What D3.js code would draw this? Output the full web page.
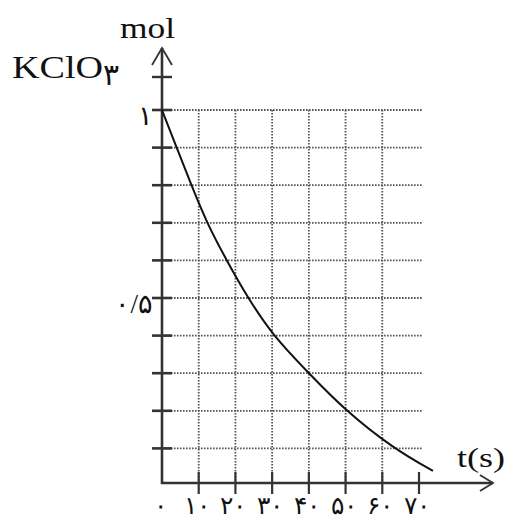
<!DOCTYPE html>
<html>
<head>
<meta charset="utf-8">
<script src="https://cdn.jsdelivr.net/npm/d3@7"></script>
<style>
  body { margin: 0; background: #fff; }
  #chart { width: 507px; height: 520px; }
  text { font-family: "Liberation Serif", "DejaVu Serif", serif; fill: #111; }
</style>
</head>
<body>
<div id="chart"></div>
<script>
// time (s) and moles of KClO3
const times = [0, 4, 8, 12.2, 17.6, 23.4, 30.2, 40, 50, 63, 73.8];
const moles = [1, 0.9, 0.8, 0.7, 0.6, 0.5, 0.4, 0.3, 0.2, 0.1, 0.04];
const xTicks = [10, 20, 30, 40, 50, 60, 70];
const xTickLabels = ["۰", "۱۰", "۲۰", "۳۰", "۴۰", "۵۰", "۶۰", "۷۰"];
const xLabelValues = [0, 10, 20, 30, 40, 50, 60, 70];
const yTicks = [0.1, 0.2, 0.3, 0.4, 0.5, 0.6, 0.7, 0.8, 0.9, 1];
const yTickLabels = [{v: 1, t: "۱"}, {v: 0.5, t: "۰/۵"}];
const xGrid = [10, 20, 30, 40, 50, 60];

document.addEventListener("DOMContentLoaded", () => {
  const svg = d3.select("#chart").append("svg")
    .attr("width", 507).attr("height", 520);

  const x = d3.scaleLinear().domain([0, 70]).range([162, 419]);
  const y = d3.scaleLinear().domain([0, 1]).range([486, 110]);
  const axisY = 483, axisX = x(0);
  const ink = "#333";

  // grid
  svg.append("g").selectAll("line").data(yTicks).enter().append("line")
    .attr("x1", axisX).attr("x2", x(71))
    .attr("y1", d => y(d)).attr("y2", d => y(d))
    .attr("stroke", "#555").attr("stroke-width", 1.8).attr("stroke-dasharray", "1.6,1.4");
  svg.append("g").selectAll("line").data(xGrid).enter().append("line")
    .attr("x1", d => x(d)).attr("x2", d => x(d))
    .attr("y1", y(1)).attr("y2", axisY)
    .attr("stroke", "#555").attr("stroke-width", 1.8).attr("stroke-dasharray", "1.6,1.4");

  // axes
  svg.append("line").attr("x1", axisX).attr("x2", axisX).attr("y1", 48).attr("y2", axisY + 1)
    .attr("stroke", ink).attr("stroke-width", 2.6);
  svg.append("line").attr("x1", axisX - 1).attr("x2", 493).attr("y1", axisY).attr("y2", axisY)
    .attr("stroke", ink).attr("stroke-width", 2.6);
  svg.append("path").attr("d", `M${axisX - 10},65 L${axisX},48 L${axisX + 10},65`)
    .attr("fill", "none").attr("stroke", ink).attr("stroke-width", 1.8);
  svg.append("path").attr("d", `M480,${axisY - 8} L493,${axisY} L480,${axisY + 8}`)
    .attr("fill", "none").attr("stroke", ink).attr("stroke-width", 1.8);
  svg.append("line").attr("x1", axisX - 10).attr("x2", axisX + 10).attr("y1", 77).attr("y2", 77)
    .attr("stroke", ink).attr("stroke-width", 2.4);

  // ticks
  svg.append("g").selectAll("line").data(yTicks).enter().append("line")
    .attr("x1", axisX - 10).attr("x2", axisX + 10)
    .attr("y1", d => y(d)).attr("y2", d => y(d))
    .attr("stroke", ink).attr("stroke-width", 2.6);
  svg.append("g").selectAll("line").data(xTicks).enter().append("line")
    .attr("x1", d => x(d)).attr("x2", d => x(d))
    .attr("y1", axisY - 11).attr("y2", axisY + 11)
    .attr("stroke", ink).attr("stroke-width", 2.2);

  // tick labels
  svg.append("g").selectAll("text").data(xLabelValues).enter().append("text")
    .attr("x", d => x(d) - 2).attr("y", 514)
    .attr("text-anchor", "middle").attr("font-size", 25)
    .text((d, i) => xTickLabels[i]);
  svg.append("g").selectAll("text").data(yTickLabels).enter().append("text")
    .attr("x", axisX - 9).attr("y", d => y(d.v) + 15)
    .attr("text-anchor", "end").attr("font-size", 27)
    .text(d => d.t);

  // axis titles
  svg.append("text").attr("x", 120).attr("y", 38).attr("font-size", 30)
    .attr("textLength", 55).attr("lengthAdjust", "spacingAndGlyphs").text("mol");
  const k = svg.append("text").attr("x", 12).attr("y", 78).attr("font-size", 32);
  k.append("tspan").attr("textLength", 91).attr("lengthAdjust", "spacingAndGlyphs").text("KClO");
  k.append("tspan").attr("dy", 7).attr("font-size", 30).text("۳");
  svg.append("text").attr("x", 457).attr("y", 467).attr("font-size", 28)
    .attr("textLength", 48).attr("lengthAdjust", "spacingAndGlyphs").text("t(s)");

  // curve
  const pts = times.map((t, i) => [t, moles[i]]);
  svg.append("path").datum(pts)
    .attr("d", d3.line().x(d => x(d[0])).y(d => y(d[1])).curve(d3.curveBasis))
    .attr("fill", "none").attr("stroke", "#111").attr("stroke-width", 2);
});
</script>
</body>
</html>
